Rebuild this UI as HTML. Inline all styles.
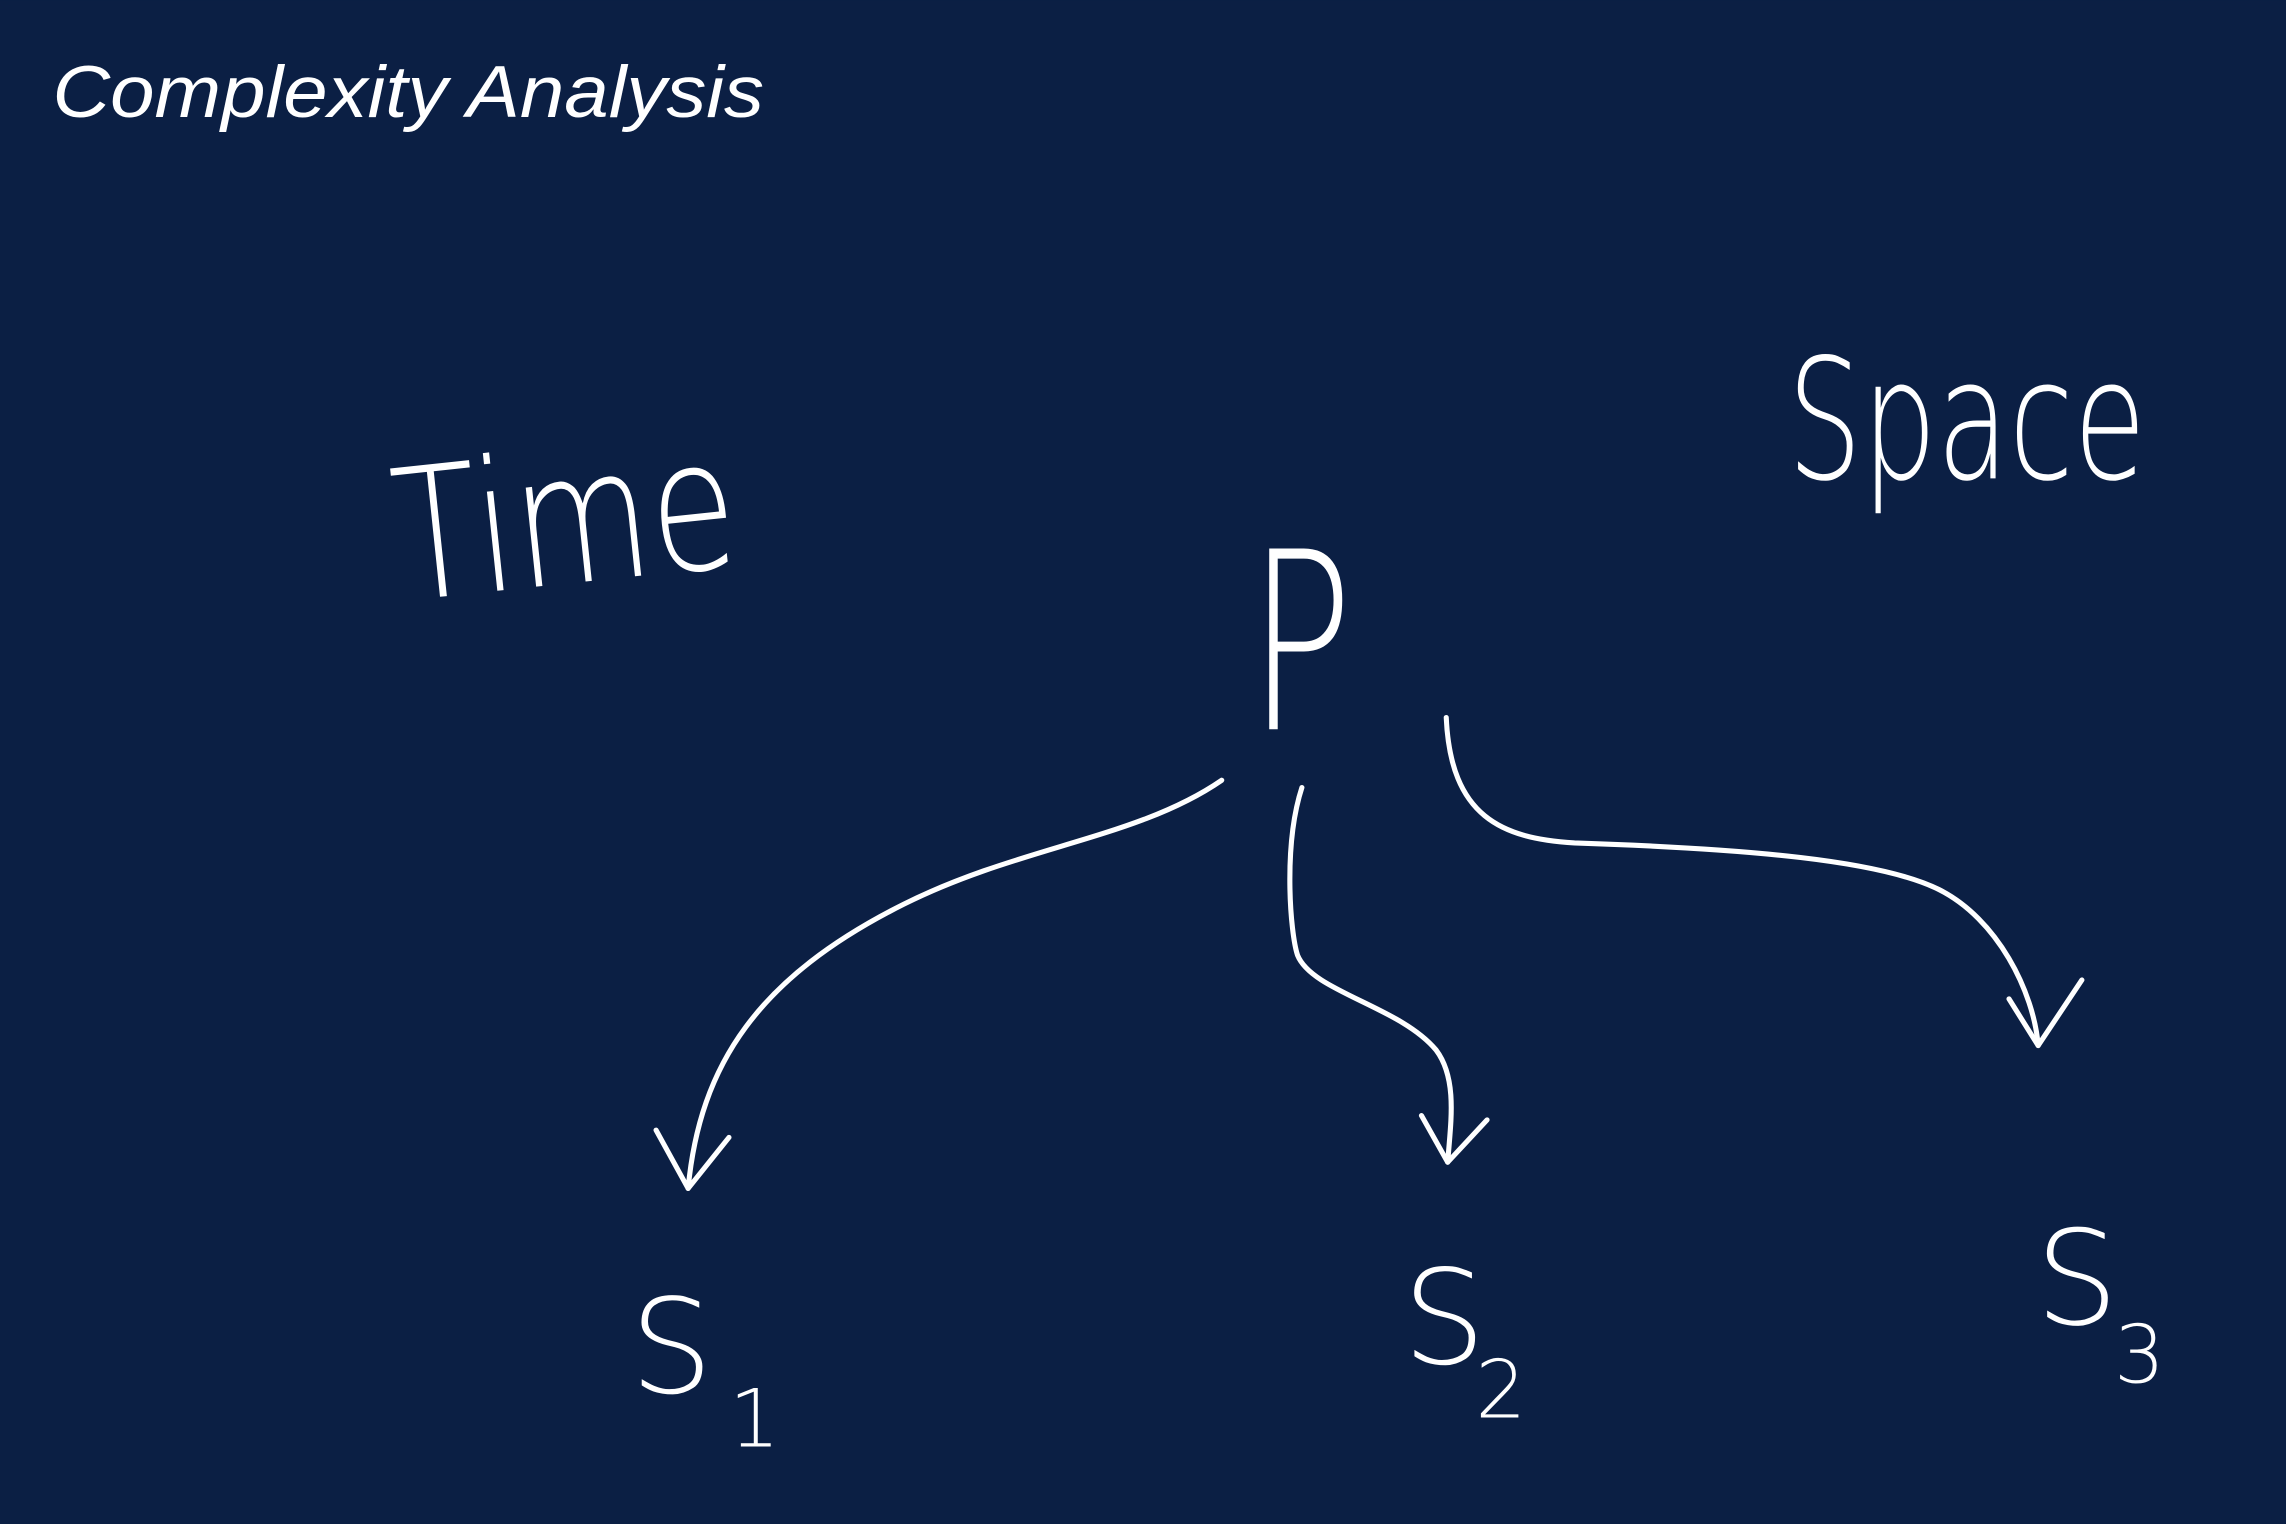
<!DOCTYPE html>
<html><head><meta charset="utf-8"><style>
html,body{margin:0;padding:0;background:#0b1f44;}
svg{display:block}
</style></head><body>
<svg width="2286" height="1524" viewBox="0 0 1568 1045" xmlns="http://www.w3.org/2000/svg">
<rect width="1568" height="1045" fill="#0b1f44"/>
<text x="36" y="80" font-family="Liberation Sans, sans-serif" font-style="italic" font-size="50" fill="#ffffff" textLength="488" lengthAdjust="spacingAndGlyphs">Complexity Analysis</text>
<g font-family="DejaVu Sans ExtraLight, DejaVu Sans, Liberation Sans, sans-serif" font-weight="200" fill="#ffffff">
<text x="275" y="412" font-size="125" transform="rotate(-6 275 412)" textLength="235" lengthAdjust="spacingAndGlyphs">Time</text>
<text x="1226" y="328" font-size="115" textLength="246" lengthAdjust="spacingAndGlyphs">Space</text>
<text x="856" y="500" font-size="170" textLength="72" lengthAdjust="spacingAndGlyphs">P</text>
<text x="432" y="955" font-size="90">S</text>
<text x="500" y="992" font-size="55">1</text>
<text x="962" y="935" font-size="90">S</text>
<text x="1012" y="972" font-size="55">2</text>
<text x="1396" y="908" font-size="90">S</text>
<text x="1450" y="948" font-size="55">3</text>
</g>
<g fill="none" stroke="#ffffff" stroke-width="3.5" stroke-linecap="round" stroke-linejoin="round">
<path d="M838,535 C780,575 700,580 620,620 C520,670 480,730 472,815"/>
<path d="M450,775 L472,815 L500,780"/>
<path d="M893,540 C880,580 885,640 890,655 C900,680 960,690 985,720 C1000,740 995,770 993,797"/>
<path d="M975,765 L993,797 L1020,768"/>
<path d="M992,492 C995,560 1030,575 1080,578 C1200,582 1290,590 1330,610 C1370,630 1395,680 1398,717"/>
<path d="M1378,685 L1398,717 L1428,672"/>
</g>
</svg>
</body></html>
